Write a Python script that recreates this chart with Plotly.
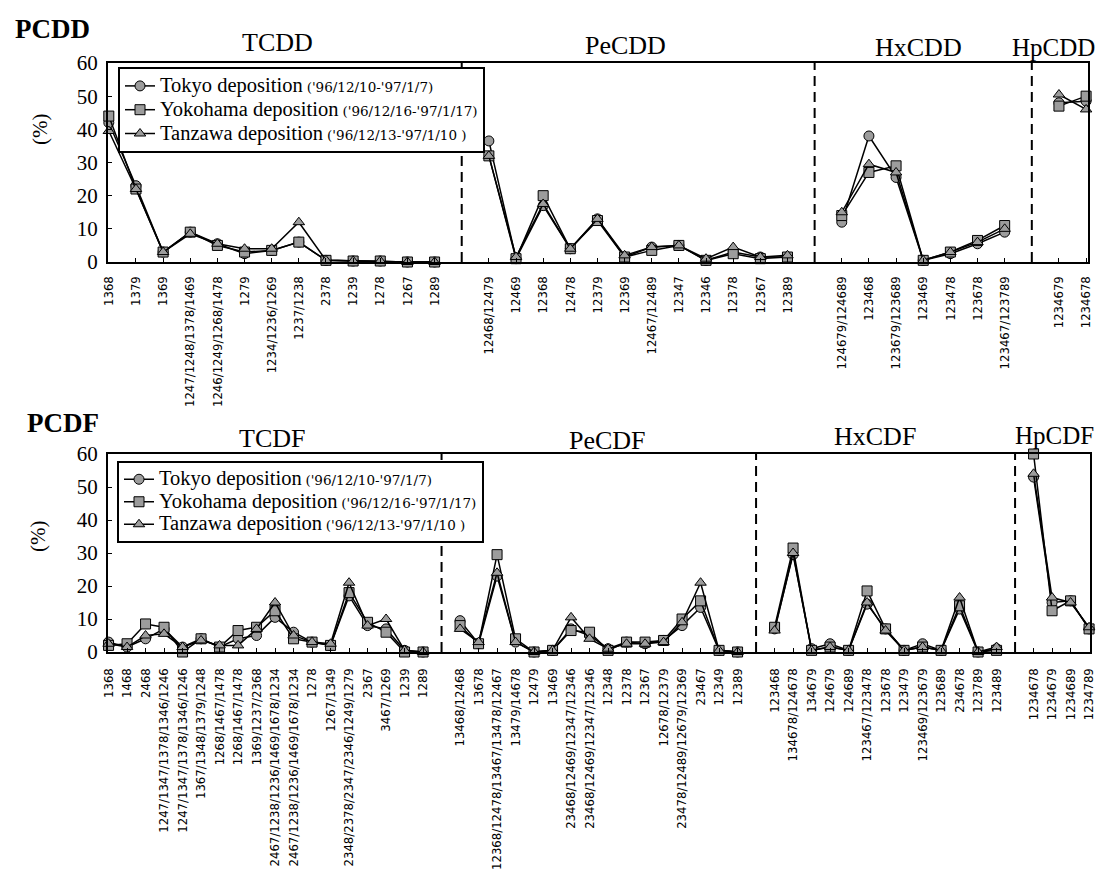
import plotly.graph_objects as go

W, H = 1104, 876
OFF = 8  # page body margin of the browser

# ---------------- DATA ----------------
tcdd_cats = ["1368", "1379", "1369", "1247/1248/1378/1469", "1246/1249/1268/1478", "1279",
             "1234/1236/1269", "1237/1238", "2378", "1239", "1278", "1267", "1289"]
pecdd_cats = ["12468/12479", "12469", "12368", "12478", "12379", "12369", "12467/12489",
              "12347", "12346", "12378", "12367", "12389"]
hxcdd_cats = ["124679/124689", "123468", "123679/123689", "123469", "123478", "123678", "123467/123789"]
hpcdd_cats = ["1234679", "1234678"]

tcdd_tokyo = [42, 23, 3, 9, 5.5, 2.5, 3.5, 6, 0.5, 0.3, 0.3, 0, 0]
tcdd_yoko = [44, 22, 3, 9, 5, 3, 3.5, 6, 0.5, 0.3, 0.3, 0, 0]
tcdd_tanz = [39.5, 22, 3, 8.5, 5.5, 4, 4, 12, 0.5, 0.3, 0.3, 0, 0]

pecdd_tokyo = [36.5, 1, 17, 4, 13, 1.5, 4.5, 5, 0.5, 3, 1.5, 1.5]
pecdd_yoko = [32, 1, 20, 4, 12.5, 1.5, 3.5, 5, 0.5, 2.5, 1, 1.5]
pecdd_tanz = [32, 1.5, 17.5, 4, 13, 2, 4.5, 5, 1, 4.5, 1.5, 2]

hxcdd_tokyo = [12, 38, 25.5, 0.5, 2.5, 5.5, 9]
hxcdd_yoko = [14, 27, 29, 0.5, 3, 6.5, 11]
hxcdd_tanz = [15, 29.5, 27, 0.5, 3, 6, 10]

hpcdd_tokyo = [48, 48.5]
hpcdd_yoko = [47, 50]
hpcdd_tanz = [50.5, 46]

tcdf_cats = ["1368", "1468", "2468", "1247/1347/1378/1346/1246", "1247/1347/1378/1346/1246",
             "1367/1348/1379/1248", "1268/1467/1478", "1268/1467/1478", "1369/1237/2368",
             "2467/1238/1236/1469/1678/1234", "2467/1238/1236/1469/1678/1234", "1278", "1267/1349",
             "2348/2378/2347/2346/1249/1279", "2367", "3467/1269", "1239", "1289"]
pecdf_cats = ["13468/12468", "13678", "12368/12478/13467/13478/12467", "13479/14678", "12479",
              "13469", "23468/12469/12347/12346", "23468/12469/12347/12346", "12348", "12378",
              "12367", "12678/12379", "23478/12489/12679/12369", "23467", "12349", "12389"]
hxcdf_cats = ["123468", "134678/124678", "134679", "124679", "124689", "123467/123478", "123678",
              "123479", "123469/123679", "123689", "234678", "123789", "123489"]
hpcdf_cats = ["1234678", "1234679", "1234689", "1234789"]

tcdf_tokyo = [3, 1.5, 4, 7, 1.5, 4, 1.5, 4, 5, 10.5, 6, 3, 2, 17, 8, 7, 0.5, 0]
tcdf_yoko = [2, 2.5, 8.5, 7.5, 0, 4, 1.5, 6.5, 7.5, 12.5, 4, 3, 2, 18, 9, 6, 0, 0]
tcdf_tanz = [2.5, 1.5, 5, 5.5, 1.5, 3.5, 2, 2, 7, 15, 5, 3, 2.5, 21, 8, 10, 0.5, 0]

pecdf_tokyo = [9.5, 2.5, 23, 3, 0, 0.5, 7, 5, 1, 3, 2.5, 3.5, 8, 13.5, 0.5, 0]
pecdf_yoko = [8, 2.5, 29.5, 4, 0, 0.5, 6.5, 6, 0.5, 3, 3, 3.5, 10, 15.5, 0.5, 0]
pecdf_tanz = [7, 3, 24, 3, 0, 0.5, 10.5, 4, 1, 2.5, 2.5, 3, 9, 21, 0.5, 0]

hxcdf_tokyo = [7, 29.5, 1, 2.5, 0.5, 14.5, 7, 0.5, 2.5, 0.5, 13, 0, 1]
hxcdf_yoko = [7.5, 31.5, 0.5, 1.5, 0.5, 18.5, 7, 0.5, 1.5, 0.5, 14, 0, 0.5]
hxcdf_tanz = [6.5, 30, 0.5, 1.5, 0.5, 15, 6.5, 0.5, 1.5, 0.5, 16.5, 0, 1.5]

hpcdf_tokyo = [53, 15, 15.5, 7]
hpcdf_yoko = [60, 12.5, 15.5, 7]
hpcdf_tanz = [54, 16.5, 15, 7.5]

series_names = ["Tokyo deposition", "Yokohama deposition", "Tanzawa deposition"]
series_dates = ["('96/12/10-'97/1/7)", "('96/12/16-'97/1/17)", "('96/12/13-'97/1/10 )"]
symbols = ["circle", "square", "triangle-up"]

pcdd_groups = [tcdd_cats, pecdd_cats, hxcdd_cats, hpcdd_cats]
pcdd_vals = [[tcdd_tokyo, pecdd_tokyo, hxcdd_tokyo, hpcdd_tokyo],
             [tcdd_yoko, pecdd_yoko, hxcdd_yoko, hpcdd_yoko],
             [tcdd_tanz, pecdd_tanz, hxcdd_tanz, hpcdd_tanz]]
pcdf_groups = [tcdf_cats, pecdf_cats, hxcdf_cats, hpcdf_cats]
pcdf_vals = [[tcdf_tokyo, pecdf_tokyo, hxcdf_tokyo, hpcdf_tokyo],
             [tcdf_yoko, pecdf_yoko, hxcdf_yoko, hpcdf_yoko],
             [tcdf_tanz, pecdf_tanz, hxcdf_tanz, hpcdf_tanz]]


def build(groups, vals_by_series):
    """Lay categories on a numeric axis with one empty slot between groups."""
    xs, labels, gaps = [], [], []
    i = 0
    for gi, g in enumerate(groups):
        for c in g:
            xs.append(i)
            labels.append(c)
            i += 1
        if gi < len(groups) - 1:
            gaps.append(i)
            xs.append(i)
            labels.append("")
            i += 1
    ys_all = []
    for sv in vals_by_series:
        ys = []
        for gi, g in enumerate(sv):
            ys.extend(g)
            if gi < len(sv) - 1:
                ys.append(None)
        ys_all.append(ys)
    return xs, labels, gaps, ys_all


x1, lab1, gaps1, ys1 = build(pcdd_groups, pcdd_vals)
x2, lab2, gaps2, ys2 = build(pcdf_groups, pcdf_vals)

FW, FH = W - OFF, H - OFF


def px(x):
    return (x - OFF) / FW


def py(y):
    return 1 - (y - OFF) / FH


fig = go.Figure()

SERIF = "Liberation Serif, Times New Roman, serif"
DATEFONT = "DejaVu Serif, Liberation Serif, serif"
SANS = "Liberation Sans Narrow, DejaVu Sans Condensed, Liberation Sans, Arial, sans-serif"
MK = "#9c9c9c"


def legend_name(k, main_size, date_size):
    return (f"<span style='font-size:{main_size}px'>{series_names[k]}</span> "
            f"<span style='font-family:{DATEFONT};font-size:{date_size}px'>{series_dates[k]}</span>")


for k in range(3):
    fig.add_trace(go.Scatter(
        x=x1, y=ys1[k], mode="lines+markers", name=legend_name(k, 20.5, 13.5), legend="legend",
        xaxis="x", yaxis="y", connectgaps=False, cliponaxis=False,
        line=dict(color="black", width=1.5),
        marker=dict(symbol=symbols[k], size=10, color=MK, line=dict(color="black", width=1))))
for k in range(3):
    fig.add_trace(go.Scatter(
        x=x2, y=ys2[k], mode="lines+markers", name=legend_name(k, 20.5, 13.5), legend="legend2",
        xaxis="x2", yaxis="y2", connectgaps=False, cliponaxis=False,
        line=dict(color="black", width=1.5),
        marker=dict(symbol=symbols[k], size=10, color=MK, line=dict(color="black", width=1))))

n1 = len(x1)
n2 = len(x2)

axis_common = dict(showline=True, linecolor="black", linewidth=2, mirror=True,
                   showgrid=False, zeroline=False, ticks="inside", ticklen=4,
                   tickcolor="black", automargin=False)

fig.update_layout(
    width=FW, height=FH, margin=dict(l=0, r=0, t=0, b=0),
    paper_bgcolor="white", plot_bgcolor="white",
    font=dict(family=SERIF, color="black"),
    xaxis=dict(domain=[px(108), px(1088)], range=[-0.03, n1 - 1 + 0.07], anchor="y",
               tickmode="array", tickvals=x1, ticktext=lab1, tickangle=-90,
               ticklabelstandoff=7,
               tickfont=dict(family=SANS, size=13, color="black"), **axis_common),
    yaxis=dict(domain=[py(262), py(63)], range=[0, 60], anchor="x",
               tickvals=[0, 10, 20, 30, 40, 50, 60], ticklabelstandoff=4,
               tickfont=dict(family=SERIF, size=21, color="black"), **axis_common),
    xaxis2=dict(domain=[px(108), px(1090)], range=[-0.03, n2 - 1 + 0.05], anchor="y2",
                tickmode="array", tickvals=x2, ticktext=lab2, tickangle=-90,
                ticklabelstandoff=9,
                tickfont=dict(family=SANS, size=13, color="black"), **axis_common),
    yaxis2=dict(domain=[py(652), py(454)], range=[0, 60], anchor="x2",
                tickvals=[0, 10, 20, 30, 40, 50, 60], ticklabelstandoff=4,
                tickfont=dict(family=SERIF, size=21, color="black"), **axis_common),
    legend=dict(x=px(118), y=py(67), xanchor="left", yanchor="top",
                bordercolor="black", borderwidth=2, bgcolor="white",
                font=dict(family=SERIF, size=16, color="black"),
                tracegroupgap=0, itemwidth=30),
    legend2=dict(x=px(117), y=py(461), xanchor="left", yanchor="top",
                 bordercolor="black", borderwidth=2, bgcolor="white",
                 font=dict(family=SERIF, size=15, color="black"),
                 tracegroupgap=0, itemwidth=30),
    showlegend=True,
)

shapes = []
for g in gaps1:
    shapes.append(dict(type="line", xref="x", yref="y", x0=g, x1=g, y0=0, y1=60,
                       line=dict(color="black", width=2, dash="10px,6px"), layer="below"))
for g in gaps2:
    shapes.append(dict(type="line", xref="x2", yref="y2", x0=g, x1=g, y0=0, y1=60,
                       line=dict(color="black", width=2, dash="10px,6px"), layer="below"))
fig.update_layout(shapes=shapes)

ann = []


def add_text(text, x, y, size, bold=False, angle=0):
    t = f"<b>{text}</b>" if bold else text
    ann.append(dict(text=t, x=px(x), y=py(y), xref="paper", yref="paper",
                    showarrow=False, xanchor="center", yanchor="middle",
                    textangle=angle, font=dict(family=SERIF, size=size, color="black")))


add_text("PCDD", 52, 29, 27, bold=True)
add_text("PCDF", 63, 423, 27, bold=True)
add_text("TCDD", 277, 43, 26)
add_text("PeCDD", 625, 45, 26)
add_text("HxCDD", 918, 47, 26)
add_text("HpCDD", 1053, 47, 25)
add_text("TCDF", 272, 438, 26)
add_text("PeCDF", 607, 440, 26)
add_text("HxCDF", 875, 437, 26)
add_text("HpCDF", 1054, 435, 25)
add_text("(%)", 40, 130, 21, angle=-90)
add_text("(%)", 38, 537, 21, angle=-90)
fig.update_layout(annotations=ann)

fig.write_html("out.html")
